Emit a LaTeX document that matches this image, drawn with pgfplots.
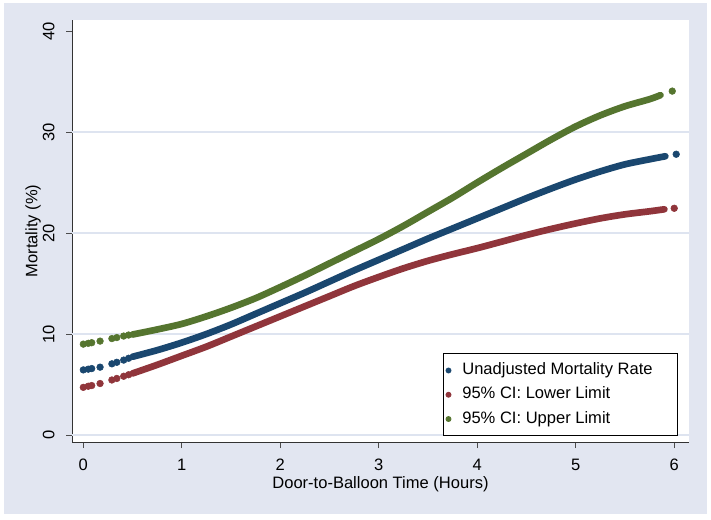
\documentclass[border=0pt]{standalone}
\usepackage{pgfplots}
\pgfplotsset{compat=1.18}
\usepackage{fontspec}
\setmainfont{Liberation Sans}
\definecolor{bgc}{RGB}{226,230,241}
\definecolor{gridc}{RGB}{222,228,240}
\definecolor{snavy}{RGB}{26,71,111}
\definecolor{smaroon}{RGB}{144,53,59}
\definecolor{sgreen}{RGB}{85,117,47}
\newcommand{\fs}{\fontsize{12.4}{14}\selectfont}

\pgfplotstableread{
x y
0.50 7.75
0.75 8.40
1.00 9.15
1.25 10.00
1.50 10.95
1.75 12.00
2.00 13.05
2.25 14.10
2.50 15.20
2.75 16.30
3.00 17.35
3.25 18.40
3.50 19.45
3.75 20.45
4.00 21.45
4.25 22.45
4.50 23.45
4.75 24.40
5.00 25.30
5.25 26.10
5.50 26.80
5.75 27.30
5.91 27.60
}\bluemain
\pgfplotstableread{
x y
0 6.45
0.05 6.52
0.085 6.58
0.17 6.72
0.29 7.05
0.34 7.20
0.41 7.42
0.46 7.60
6.02 27.80
}\bluedots
\pgfplotstableread{
x y
0.50 6.10
0.75 6.95
1.00 7.85
1.25 8.75
1.50 9.75
1.75 10.75
2.00 11.75
2.25 12.75
2.50 13.75
2.75 14.75
3.00 15.65
3.25 16.50
3.50 17.25
3.75 17.90
4.00 18.50
4.25 19.15
4.50 19.80
4.75 20.40
5.00 20.95
5.25 21.45
5.50 21.85
5.75 22.15
5.90 22.35
}\redmain
\pgfplotstableread{
x y
0 4.72
0.05 4.83
0.085 4.90
0.17 5.10
0.29 5.45
0.34 5.60
0.41 5.82
0.46 5.97
6.00 22.45
}\reddots
\pgfplotstableread{
x y
0.50 9.95
0.75 10.45
1.00 11.00
1.25 11.75
1.50 12.60
1.75 13.55
2.00 14.65
2.25 15.80
2.50 17.00
2.75 18.20
3.00 19.40
3.25 20.70
3.50 22.10
3.75 23.50
4.00 25.00
4.25 26.45
4.50 27.85
4.75 29.25
5.00 30.55
5.25 31.65
5.50 32.55
5.75 33.25
5.86 33.65
}\greenmain
\pgfplotstableread{
x y
0 9.00
0.05 9.08
0.085 9.14
0.17 9.30
0.29 9.55
0.34 9.65
0.41 9.80
0.46 9.90
5.98 34.05
}\greendots

\begin{document}
\begin{tikzpicture}
\fill[white] (0,0) rectangle (533.25pt,389.25pt);
\fill[bgc] (3pt,3.75pt) rectangle (530.25pt,387pt);
\begin{axis}[
  at={(54pt,57.75pt)}, anchor=south west,
  scale only axis, width=462.75pt, height=316.5pt,
  xmin=-0.115, xmax=6.15, ymin=-0.69, ymax=41.09,
  axis lines*=left,
  axis line style={draw=black!80, line width=0.75pt},
  axis background/.style={fill=white},
  tick align=outside, major tick length=4.5pt,
  tick style={black!70, line width=0.75pt},
  xtick={0,1,2,3,4,5,6}, ytick={0,10,20,30,40},
  minor tick num=0,
  extra y ticks={0,10,20,30}, extra y tick labels={,,,},
  extra y tick style={ymajorgrids=true, major tick length=0pt,
     major grid style={gridc, line width=1.2pt}},
  /pgf/number format/assume math mode=true,
  ticklabel style={font=\fs},
  xticklabel style={anchor=center, yshift=-12.75pt, inner sep=0pt},
  yticklabel style={xshift=-13pt, rotate=90, anchor=center},
  label style={font=\fs},
  xlabel={Door-to-Balloon Time (Hours)},
  ylabel={Mortality (\%)},
  xlabel style={at={(axis description cs:0.5,-0.0995)}, anchor=center, inner sep=0pt},
  ylabel style={at={(axis description cs:-0.0632,0.5)}, anchor=center},
  legend cell align=left,
  legend image code/.code={\draw[#1, mark size=1.9pt] plot coordinates {(0pt,0pt)};},
  legend style={at={(0.982,0.014)}, anchor=south east, draw=black, line width=0.6pt,
     fill=white, font=\fs, inner xsep=1.85pt, inner ysep=5pt, row sep=3.2pt, column sep=7pt,
     nodes={inner sep=1.5pt, text height=9pt, text depth=3pt}},
]
\addplot[forget plot, snavy, line width=5pt, line cap=round, smooth] table[x=x,y=y] {\bluemain};
\addplot[only marks, mark=*, mark size=2.5pt, snavy] table[x=x,y=y] {\bluedots};
\addlegendentry{\makebox[158pt][l]{Unadjusted Mortality Rate}}
\addplot[forget plot, smaroon, line width=5pt, line cap=round, smooth] table[x=x,y=y] {\redmain};
\addplot[only marks, mark=*, mark size=2.5pt, smaroon] table[x=x,y=y] {\reddots};
\addlegendentry{95\% CI: Lower Limit}
\addplot[forget plot, sgreen, line width=5pt, line cap=round, smooth] table[x=x,y=y] {\greenmain};
\addplot[only marks, mark=*, mark size=2.5pt, sgreen] table[x=x,y=y] {\greendots};
\addlegendentry{95\% CI: Upper Limit}
\end{axis}
\end{tikzpicture}
\end{document}
